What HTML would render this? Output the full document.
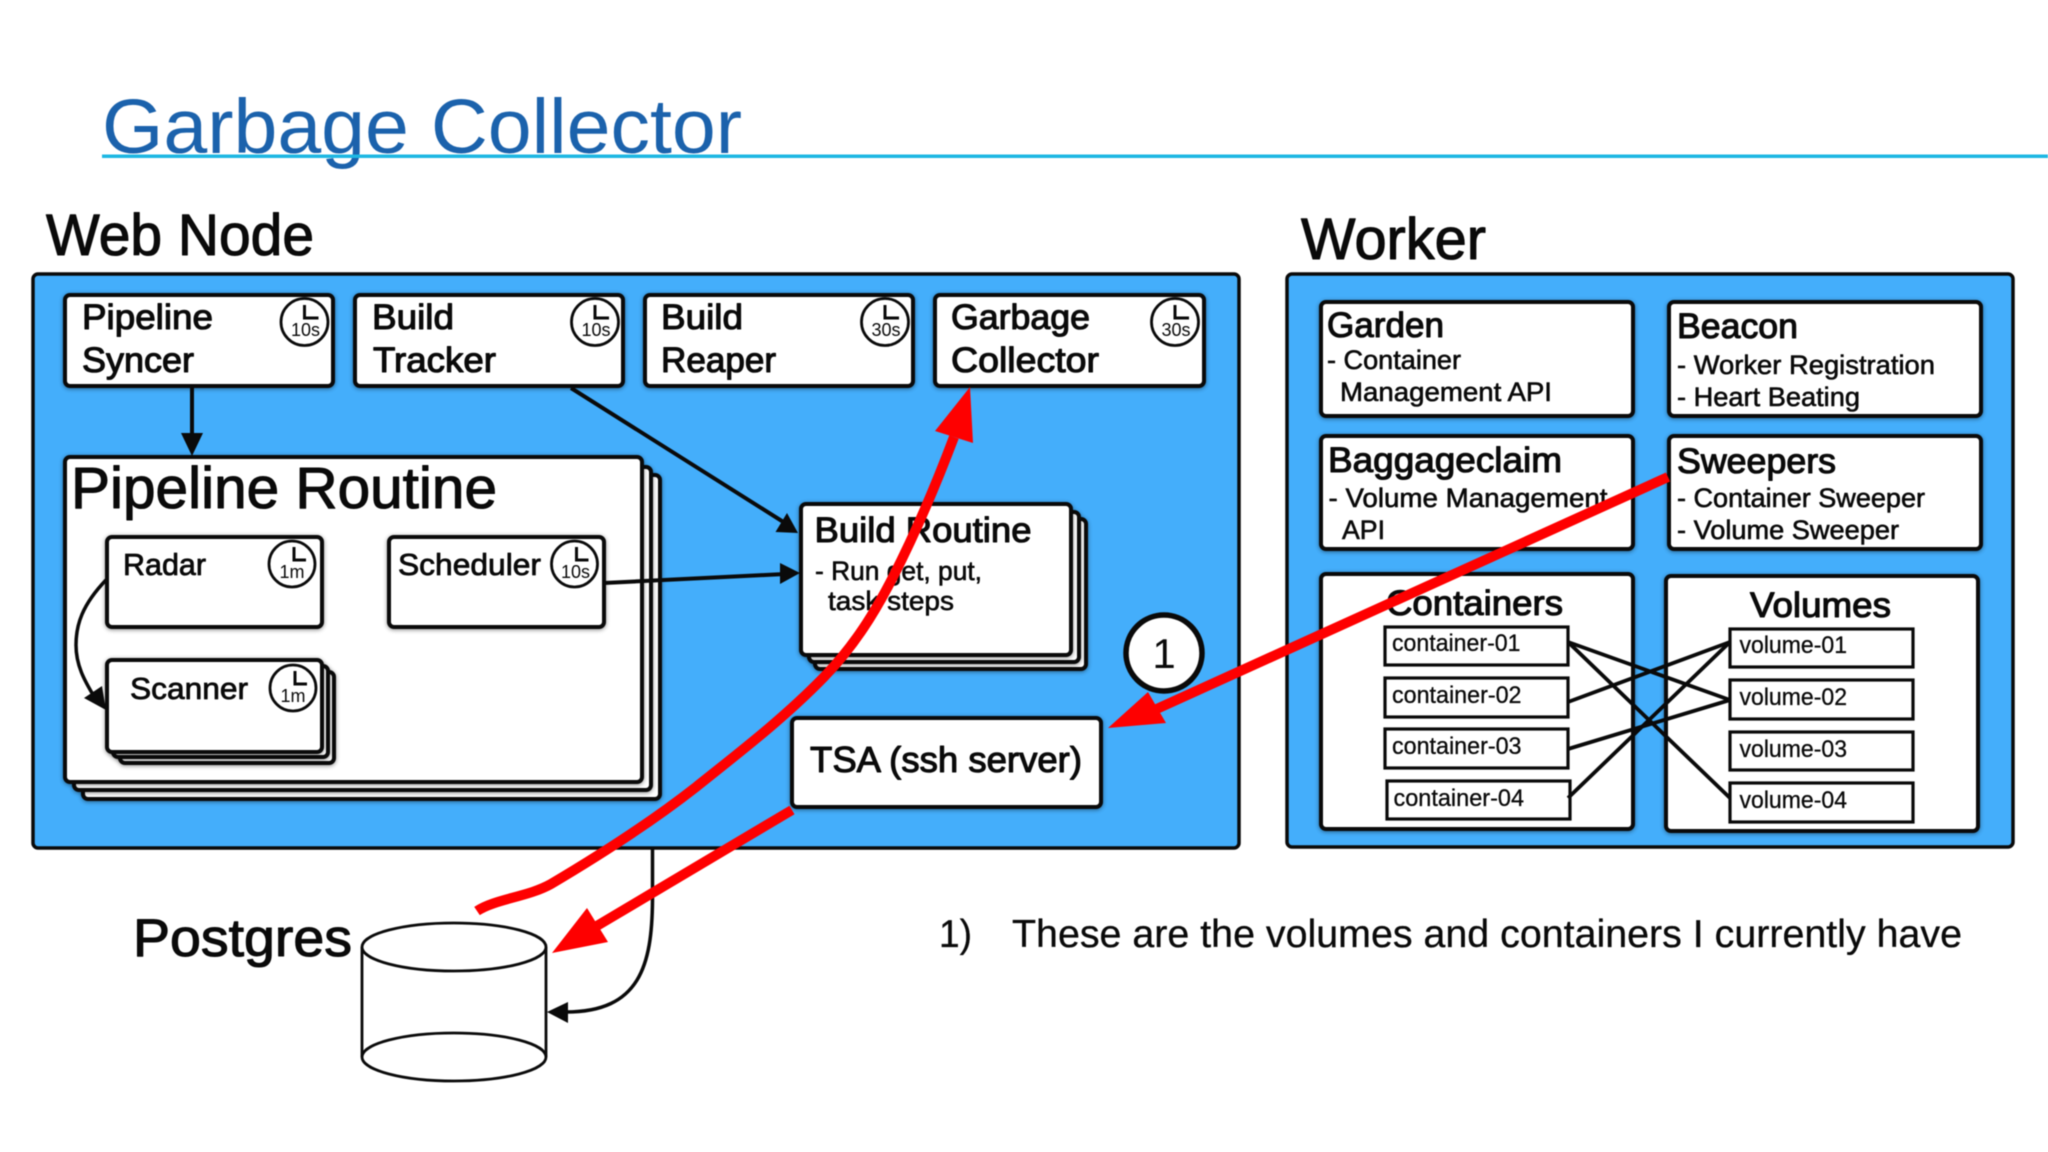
<!DOCTYPE html>
<html><head><meta charset="utf-8"><style>
html,body{margin:0;padding:0;background:#fff}
svg{display:block;filter:blur(.4px)}
text{font-family:"Liberation Sans",sans-serif;fill:#0a0a0a;stroke-linejoin:round}
.m{stroke:#0a0a0a;stroke-width:1.1px}
.s{stroke:#0a0a0a;stroke-width:.6px}
.x{stroke:#0a0a0a;stroke-width:.3px}
.b{fill:#fff;stroke:#0a0a0a;stroke-width:4;filter:drop-shadow(0 1px 2px rgba(0,0,0,.45))}
.c{fill:#fff;stroke:#0a0a0a;stroke-width:3.2}
.l{fill:none;stroke:#0a0a0a;stroke-width:4}
.k circle{fill:#fff;stroke:#0a0a0a;stroke-width:2.8}
.k path{fill:none;stroke:#0a0a0a;stroke-width:3}
.k text{font-size:18px;text-anchor:middle}
.r{fill:none;stroke:#fe0000;stroke-width:10}
</style></head><body>
<svg width="2048" height="1152" viewBox="0 0 2048 1152" xmlns="http://www.w3.org/2000/svg">
<rect width="2048" height="1152" fill="#fff"/>
<text x="102" y="153" font-size="77" textLength="640" lengthAdjust="spacingAndGlyphs" style="fill:#1b62ac">Garbage Collector</text>
<rect x="102" y="154.500" width="1946" height="3.500" fill="#1db7e3"/>

<text class="m" x="46" y="255" font-size="58" textLength="268" lengthAdjust="spacingAndGlyphs">Web Node</text>
<text class="m" x="1301" y="259" font-size="58" textLength="185" lengthAdjust="spacingAndGlyphs">Worker</text>

<!-- Black connector under web box -->
<path d="M652.500 846 L652.500 900 C652 965 640 1012 566 1012" fill="none" stroke="#0a0a0a" stroke-width="3.500"/>
<polygon points="547,1012 568,1002 568,1023" fill="#0a0a0a"/>

<!-- Containers -->
<rect x="33" y="274" width="1206" height="574" rx="5" fill="#44aefb" stroke="#0a0a0a" stroke-width="3.500"/>
<rect x="1287" y="274" width="726" height="573" rx="5" fill="#44aefb" stroke="#0a0a0a" stroke-width="3.500"/>

<!-- Top row -->
<rect class="b" x="65" y="295" width="268" height="91" rx="5"/>
<rect class="b" x="355" y="295" width="268" height="91" rx="5"/>
<rect class="b" x="645" y="295" width="268" height="91" rx="5"/>
<rect class="b" x="935" y="295" width="269" height="91" rx="5"/>
<text class="m" x="82" y="329" font-size="35" textLength="131" lengthAdjust="spacingAndGlyphs">Pipeline</text>
<text class="m" x="82" y="372" font-size="35" textLength="112" lengthAdjust="spacingAndGlyphs">Syncer</text>
<text class="m" x="372" y="329" font-size="35" textLength="82" lengthAdjust="spacingAndGlyphs">Build</text>
<text class="m" x="373" y="372" font-size="35" textLength="123" lengthAdjust="spacingAndGlyphs">Tracker</text>
<text class="m" x="661" y="329" font-size="35" textLength="82" lengthAdjust="spacingAndGlyphs">Build</text>
<text class="m" x="661" y="372" font-size="35" textLength="115" lengthAdjust="spacingAndGlyphs">Reaper</text>
<text class="m" x="951" y="329" font-size="35" textLength="139" lengthAdjust="spacingAndGlyphs">Garbage</text>
<text class="m" x="951" y="372" font-size="35" textLength="148" lengthAdjust="spacingAndGlyphs">Collector</text>
<g class="k" transform="translate(304.500 322)"><circle r="23.500"/><path d="M0 -17V-4H14"/><text x="1" y="14">10s</text></g>
<g class="k" transform="translate(595 322)"><circle r="23.500"/><path d="M0 -17V-4H14"/><text x="1" y="14">10s</text></g>
<g class="k" transform="translate(885 322)"><circle r="23.500"/><path d="M0 -17V-4H14"/><text x="1" y="14">30s</text></g>
<g class="k" transform="translate(1175 322)"><circle r="23.500"/><path d="M0 -17V-4H14"/><text x="1" y="14">30s</text></g>

<!-- Pipeline routine -->
<rect class="b" x="83" y="475" width="577" height="324" rx="5"/>
<rect class="b" x="74" y="467" width="577" height="323" rx="5"/>
<rect class="b" x="65" y="457" width="577" height="325" rx="5"/>
<text class="m" x="71" y="508" font-size="58" textLength="426" lengthAdjust="spacingAndGlyphs">Pipeline Routine</text>

<rect class="b" x="107" y="537" width="215" height="90" rx="5"/>
<text class="m" x="123" y="575" font-size="31" style="stroke-width:.8px" textLength="83" lengthAdjust="spacingAndGlyphs">Radar</text>
<g class="k" transform="translate(292 564)"><circle r="23"/><path d="M2 -17V-4H14"/><text x="0" y="14">1m</text></g>

<rect class="b" x="389" y="537" width="215" height="90" rx="5"/>
<text class="m" x="398" y="575" font-size="31" style="stroke-width:.8px" textLength="143" lengthAdjust="spacingAndGlyphs">Scheduler</text>
<g class="k" transform="translate(574.500 564)"><circle r="23"/><path d="M2 -17V-4H14"/><text x="1" y="14">10s</text></g>

<rect class="b" x="120" y="672" width="214" height="91" rx="5"/>
<rect class="b" x="113" y="666" width="215" height="91" rx="5"/>
<rect class="b" x="107" y="660" width="215" height="92" rx="5"/>
<text class="m" x="130" y="699" font-size="31" style="stroke-width:.8px" textLength="118" lengthAdjust="spacingAndGlyphs">Scanner</text>
<g class="k" transform="translate(293 688)"><circle r="23"/><path d="M2 -17V-4H14"/><text x="0" y="14">1m</text></g>

<path d="M106 580 C82 605 76 625 76 645 C76 665 84 680 95 698" fill="none" stroke="#0a0a0a" stroke-width="3.500"/>
<polygon points="106,710 84,698 102,686" fill="#0a0a0a"/>

<!-- Build routine -->
<rect class="b" x="815" y="519" width="271" height="150" rx="5"/>
<rect class="b" x="809" y="512" width="270" height="150" rx="5"/>
<rect class="b" x="801" y="504" width="270" height="151" rx="5"/>
<text class="m" x="814.500" y="542" font-size="35" textLength="217" lengthAdjust="spacingAndGlyphs">Build Routine</text>
<text class="s" x="815" y="580" font-size="27" textLength="167" lengthAdjust="spacingAndGlyphs">- Run get, put,</text>
<text class="s" x="828" y="610" font-size="27" textLength="126" lengthAdjust="spacingAndGlyphs">task steps</text>

<!-- black arrows -->
<line x1="192" y1="386" x2="192" y2="436" class="l"/>
<polygon points="192,456 181,433 203,433" fill="#0a0a0a"/>
<line x1="571" y1="388" x2="785" y2="523" class="l"/>
<polygon points="798,533 775.500,532 787,513" fill="#0a0a0a"/>
<line x1="604" y1="583" x2="785" y2="574" class="l"/>
<polygon points="800,573 780,563 780,584" fill="#0a0a0a"/>

<!-- TSA -->
<rect class="b" x="792" y="718" width="309" height="89" rx="5"/>
<text class="m" x="810" y="772" font-size="36" textLength="272" lengthAdjust="spacingAndGlyphs">TSA (ssh server)</text>

<!-- Worker boxes -->
<rect class="b" x="1321" y="302" width="312" height="114" rx="5"/>
<rect class="b" x="1669" y="302" width="312" height="114" rx="5"/>
<rect class="b" x="1321" y="436" width="312" height="113" rx="5"/>
<rect class="b" x="1669" y="436" width="312" height="113" rx="5"/>
<rect class="b" x="1321" y="574" width="312" height="255" rx="5"/>
<rect class="b" x="1666" y="576" width="312" height="255" rx="5"/>

<text class="m" x="1327" y="337" font-size="35" textLength="117" lengthAdjust="spacingAndGlyphs">Garden</text>
<text class="s" x="1327" y="369" font-size="27" textLength="134" lengthAdjust="spacingAndGlyphs">- Container</text>
<text class="s" x="1340" y="401" font-size="27" textLength="212" lengthAdjust="spacingAndGlyphs">Management API</text>
<text class="m" x="1677" y="338" font-size="35" textLength="121" lengthAdjust="spacingAndGlyphs">Beacon</text>
<text class="s" x="1677" y="374" font-size="27" textLength="258" lengthAdjust="spacingAndGlyphs">- Worker Registration</text>
<text class="s" x="1677" y="406" font-size="27" textLength="183" lengthAdjust="spacingAndGlyphs">- Heart Beating</text>
<text class="m" x="1328" y="472" font-size="35" textLength="234" lengthAdjust="spacingAndGlyphs">Baggageclaim</text>
<text class="s" x="1328.500" y="507" font-size="27" textLength="279" lengthAdjust="spacingAndGlyphs">- Volume Management</text>
<text class="s" x="1342" y="539" font-size="27" textLength="43" lengthAdjust="spacingAndGlyphs">API</text>
<text class="m" x="1677" y="473" font-size="35" textLength="159" lengthAdjust="spacingAndGlyphs">Sweepers</text>
<text class="s" x="1677" y="507" font-size="27" textLength="248" lengthAdjust="spacingAndGlyphs">- Container Sweeper</text>
<text class="s" x="1677" y="539" font-size="27" textLength="222" lengthAdjust="spacingAndGlyphs">- Volume Sweeper</text>
<text class="m" x="1386" y="615" font-size="35" textLength="177" lengthAdjust="spacingAndGlyphs">Containers</text>
<text class="m" x="1750" y="617" font-size="35" textLength="141" lengthAdjust="spacingAndGlyphs">Volumes</text>

<rect class="c" x="1385" y="627" width="183" height="38"/>
<rect class="c" x="1385" y="678" width="183" height="39"/>
<rect class="c" x="1385" y="729" width="183" height="39"/>
<rect class="c" x="1387" y="781" width="183" height="38"/>
<rect class="c" x="1730" y="629" width="183" height="38"/>
<rect class="c" x="1730" y="680" width="183" height="39"/>
<rect class="c" x="1730" y="732" width="183" height="38"/>
<rect class="c" x="1730" y="783" width="183" height="39"/>
<text class="x" x="1392" y="651" font-size="24" textLength="128.500" lengthAdjust="spacingAndGlyphs">container-01</text>
<text class="x" x="1392" y="703" font-size="24" textLength="129.500" lengthAdjust="spacingAndGlyphs">container-02</text>
<text class="x" x="1392" y="754" font-size="24" textLength="129.500" lengthAdjust="spacingAndGlyphs">container-03</text>
<text class="x" x="1393.500" y="806" font-size="24" textLength="130.500" lengthAdjust="spacingAndGlyphs">container-04</text>
<text class="x" x="1739.500" y="653" font-size="24" textLength="107.500" lengthAdjust="spacingAndGlyphs">volume-01</text>
<text class="x" x="1739.500" y="705" font-size="24" textLength="107.500" lengthAdjust="spacingAndGlyphs">volume-02</text>
<text class="x" x="1739.500" y="757" font-size="24" textLength="107.500" lengthAdjust="spacingAndGlyphs">volume-03</text>
<text class="x" x="1739.500" y="808" font-size="24" textLength="107.500" lengthAdjust="spacingAndGlyphs">volume-04</text>

<g stroke="#0a0a0a" stroke-width="3.800" fill="none">
<line x1="1568" y1="642" x2="1730" y2="700"/>
<line x1="1568" y1="642" x2="1730" y2="798"/>
<line x1="1568" y1="702" x2="1730" y2="642"/>
<line x1="1568" y1="749" x2="1730" y2="700"/>
<line x1="1568" y1="798" x2="1730" y2="642"/>
</g>

<!-- Postgres -->
<text class="m" x="133" y="956" font-size="53" textLength="219" lengthAdjust="spacingAndGlyphs">Postgres</text>
<g fill="none" stroke="#0a0a0a" stroke-width="2.800">
<ellipse cx="454" cy="1057" rx="92" ry="24" fill="#fff"/>
<path d="M362 947V1057M546 947V1057"/>
<ellipse cx="454" cy="947" rx="92" ry="24" fill="#fff"/>
</g>

<!-- Note -->
<text class="x" x="939" y="947" font-size="39" textLength="33" lengthAdjust="spacingAndGlyphs">1)</text>
<text class="x" x="1012" y="947" font-size="39" textLength="950" lengthAdjust="spacingAndGlyphs">These are the volumes and containers I currently have</text>

<!-- Circle 1 -->
<circle cx="1164" cy="653" r="38" fill="#fff" stroke="#0a0a0a" stroke-width="5.500"/>
<text x="1164" y="668" font-size="42" text-anchor="middle">1</text>

<!-- Red arrows -->
<path class="r" d="M477 911 C495 899 528 897 551 884 C600 855 650 823 696 787 C745 748 785 717 824 677 C855 645 875 612 893 577 C917 530 937 482 954 437"/>
<polygon points="970,387 935,431 973,443" fill="#fe0000"/>
<line class="r" x1="1668" y1="477" x2="1150" y2="712"/>
<polygon points="1108,728 1148,692 1166,723" fill="#fe0000"/>
<line class="r" x1="792" y1="810" x2="590" y2="930"/>
<polygon points="552,953 587,908 608,942" fill="#fe0000"/>
</svg>
</body></html>
